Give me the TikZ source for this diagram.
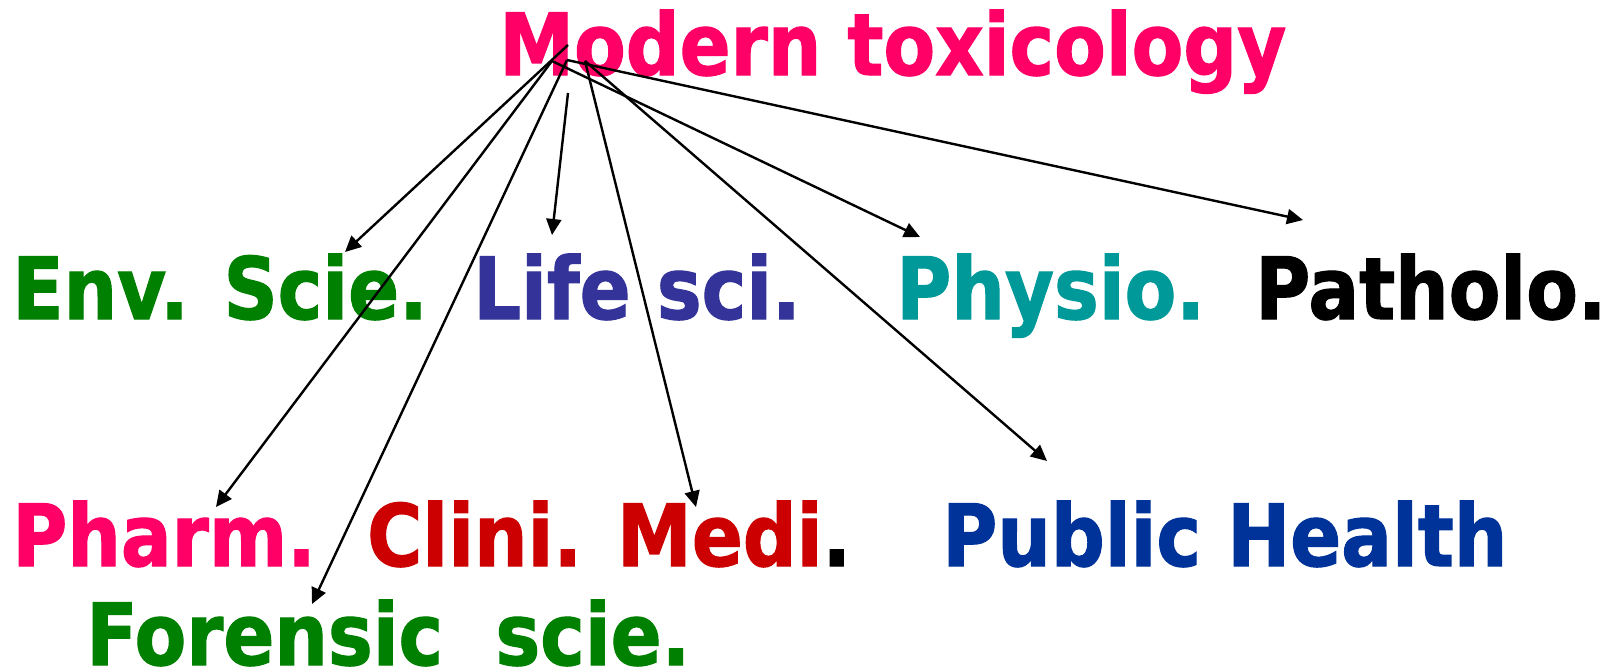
\documentclass[tikz,border=0pt]{standalone}
\usepackage{fontspec}
\setmainfont{DejaVu Sans}[FakeStretch=0.875, BoldFeatures={FakeBold=1.3}]
\usetikzlibrary{arrows.meta}
\definecolor{cpink}{HTML}{FF0066}
\definecolor{cgreen}{HTML}{008000}
\definecolor{cpurple}{HTML}{333399}
\definecolor{cteal}{HTML}{009999}
\definecolor{cred}{HTML}{CC0000}
\definecolor{cnavy}{HTML}{003399}
\tikzset{
  lab/.style={anchor=base west, inner sep=0pt, font=\bfseries\fontsize{86}{90}\selectfont},
  conn/.style={line width=2.4pt, -{Triangle[length=16pt,width=15pt]}}
}
\begin{document}
\begin{tikzpicture}[x=1pt,y=-1pt]
\useasboundingbox[fill=white] (0,0) rectangle (1614,670);
\node[lab, text=cpink] (mt) at (499,75) {Modern toxicology};
\node[lab, text=cgreen] (env) at (12,319) {Env. Scie.};
\node[lab, text=cpurple] (life) at (473,319) {Life sci.};
\node[lab, text=cteal] (phys) at (896,319) {Physio.};
\node[lab, text=black] (path) at (1255,319) {Patholo.};
\node[lab, text=cpink] (pharm) at (12,566) {Pharm.};
\node[lab, text=cred] (clini) at (367,566) {Clini. Medi\textcolor{black}{.}};
\node[lab, text=cnavy] (pub) at (942,566) {Public Health};
\node[lab, text=cgreen] (for) at (86,665) {Forensic\ \ scie.};
% start points inside the title
\coordinate (sA) at (568,45);
\coordinate (sB) at (552,61);
\coordinate (sC) at (567,60);
\coordinate (sD) at (585,61);
\coordinate (sE) at (568,93);
% arrow tips
\coordinate (tEnv) at (345,252);
\coordinate (tLife) at (552,235);
\coordinate (tPhys) at (920,237);
\coordinate (tPath) at (1303,220);
\coordinate (tPharm) at (216,507);
\coordinate (tClini) at (696,507);
\coordinate (tPub) at (1047,461);
\coordinate (tFor) at (312,604);
\draw[conn] (sA) -- (tEnv);
\draw[conn] (sB) -- (tPharm);
\draw[conn] (sC) -- (tFor);
\draw[conn] (sE) -- (tLife);
\draw[conn] (sD) -- (tClini);
\draw[conn] (sD) -- (tPub);
\draw[conn] (sB) -- (tPhys);
\draw[conn] (sC) -- (tPath);
\end{tikzpicture}
\end{document}
